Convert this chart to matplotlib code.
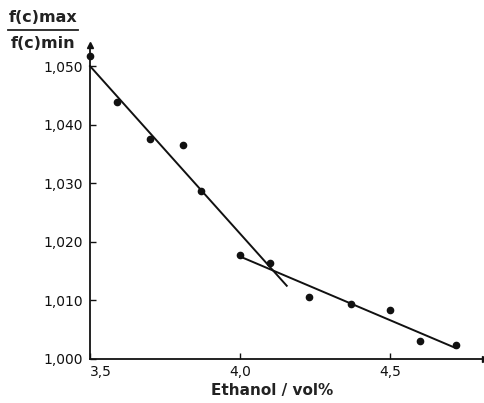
import matplotlib
matplotlib.use("Agg")
import matplotlib.pyplot as plt
from matplotlib.lines import Line2D

# Data
ethanol = [3.50, 3.59, 3.70, 3.81, 3.87, 4.00, 4.10, 4.23, 4.37, 4.50, 4.60, 4.72]
ratio = [1.0517, 1.0439, 1.0375, 1.0365, 1.0287, 1.0177, 1.0164, 1.0106,
         1.0094, 1.0084, 1.0031, 1.0024]

# Fitted straight lines (end points)
fit1_x = [3.50, 4.156]
fit1_y = [1.0500, 1.0125]
fit2_x = [4.00, 4.718]
fit2_y = [1.0175, 1.0019]

xticks = [3.5, 4.0, 4.5]
xtick_labels = ["3,5", "4,0", "4,5"]
yticks = [1.000, 1.010, 1.020, 1.030, 1.040, 1.050]
ytick_labels = ["1,000", "1,010", "1,020", "1,030", "1,040", "1,050"]

fig = plt.figure(figsize=(4.85, 4.03), dpi=100)
ax = fig.add_axes([90/485, 44/403, 395/485, 314/403])

ax.plot(ethanol, ratio, 'o', color='#111111', markersize=4.5, clip_on=False, zorder=3)
ax.plot(fit1_x, fit1_y, '-', color='#111111', lw=1.4, clip_on=False)
ax.plot(fit2_x, fit2_y, '-', color='#111111', lw=1.4, clip_on=False)

ax.set_xlim(3.5, 4.817)
ax.set_ylim(1.000, 1.0536)

for s in ['top', 'right']:
    ax.spines[s].set_visible(False)
for s in ['left', 'bottom']:
    ax.spines[s].set_linewidth(1.3)
    ax.spines[s].set_color('#111111')

# arrow heads
ax.plot(1, 0, '>', color='#111111', markersize=5, transform=ax.transAxes, clip_on=False)
ax.plot(0, 1, '^', color='#111111', markersize=5, transform=ax.transAxes, clip_on=False)

tick_font = dict(family=['DejaVu Sans'], size=10)
ax.set_xticks(xticks)
ax.set_xticklabels(xtick_labels, **tick_font)
ax.set_yticks(yticks)
ax.set_yticklabels(ytick_labels, **tick_font)
ax.tick_params(direction='in', length=4, width=1.0, color='#111111', labelcolor='#111111')
ax.tick_params(axis='x', pad=4)
ax.tick_params(axis='y', pad=5)
ax.get_xticklabels()[0].set_horizontalalignment('left')

ax.set_xlabel("Ethanol / vol%", fontsize=11, fontweight='bold', color='#222222')
ax.xaxis.set_label_coords((272 - 90) / 395, -(390 - 359) / 314)
ax.xaxis.label.set_va('center')

fig.text(43/485, 1 - 18/403, "f(c)max", ha='center', va='center', fontsize=11.5,
         fontweight='bold', color='#222222')
fig.text(43/485, 1 - 43/403, "f(c)min", ha='center', va='center', fontsize=11.5,
         fontweight='bold', color='#222222')
fig.add_artist(Line2D([8/485, 78/485], [1 - 30/403, 1 - 30/403], color='#222222', lw=1.3))

fig.savefig("out.png", dpi=100, facecolor='white')
